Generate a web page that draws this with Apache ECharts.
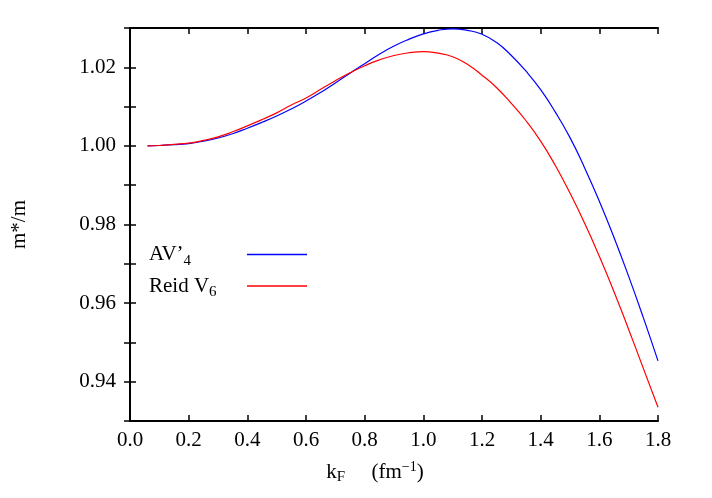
<!DOCTYPE html>
<html>
<head>
<meta charset="utf-8">
<script src="https://cdn.jsdelivr.net/npm/echarts@6/dist/echarts.min.js"></script>
<style>
  html, body { margin: 0; padding: 0; background: #fff; }
</style>
</head>
<body>
<div id="main" style="width: 712px; height: 498px"></div>
<script>
// 读图估计的数据
const kF = [0.06, 0.1, 0.15, 0.2, 0.25, 0.3, 0.35, 0.4, 0.45, 0.5, 0.55, 0.6, 0.65, 0.7, 0.75, 0.8, 0.85, 0.9, 0.95,
  1.0, 1.05, 1.1, 1.15, 1.2, 1.25, 1.3, 1.35, 1.4, 1.45, 1.5, 1.55, 1.6, 1.65, 1.7, 1.75, 1.8];
const av4 = [1.0000, 1.0001, 1.0003, 1.0006, 1.0012, 1.0020, 1.0031, 1.0045, 1.0060, 1.0076, 1.0094, 1.0114, 1.0136,
  1.0160, 1.0185, 1.0209, 1.0233, 1.0254, 1.0271, 1.0285, 1.0294, 1.0298, 1.0294, 1.0284, 1.0263, 1.0230, 1.0190,
  1.0143, 1.0086, 1.0021, 0.9944, 0.9859, 0.9767, 0.9668, 0.9563, 0.9453];
const reidV6 = [1.0000, 1.0001, 1.0004, 1.0007, 1.0014, 1.0023, 1.0036, 1.0051, 1.0067, 1.0084, 1.0104, 1.0122, 1.0144,
  1.0166, 1.0186, 1.0204, 1.0219, 1.0230, 1.0237, 1.0240, 1.0236, 1.0227, 1.0208, 1.0180, 1.0148, 1.0108, 1.0064,
  1.0012, 0.9950, 0.9880, 0.9803, 0.9719, 0.9629, 0.9533, 0.9434, 0.9335];

const font = 'Liberation Serif';

function pairs(ys) {
  const out = [];
  for (let i = 0; i < kF.length; i++) {
    out.push([kF[i], ys[i]]);
  }
  return out;
}

const myChart = echarts.init(document.getElementById('main'));

const tickStyle = {show: true, inside: true, length: 6, lineStyle: {color: '#000', width: 1.5}};
const frameLine = {show: true, lineStyle: {color: '#000', width: 2}};

const option = {
  animation: false,
  grid: {left: 130, right: 54, top: 28, bottom: 77, containLabel: false},
  legend: {
    orient: 'vertical',
    left: 149,
    top: 244,
    padding: 0,
    align: 'right',
    itemGap: 7,
    itemWidth: 60,
    itemHeight: 1.5,
    icon: 'rect',
    textStyle: {
      fontFamily: font, fontSize: 21, color: '#000', width: 93,
      rich: {
        n: {fontFamily: font, fontSize: 21, color: '#000', align: 'left'},
        sub: {fontFamily: font, fontSize: 15, color: '#000', align: 'left', padding: [13, 0, 0, 0]}
      }
    },
    formatter: function (name) {
      if (name === 'AV4') return '{n|AV’}{sub|4}';
      return '{n|Reid V}{sub|6}';
    },
    data: ['AV4', 'ReidV6']
  },
  xAxis: [{
    type: 'value',
    min: 0, max: 1.8, interval: 0.2,
    name: 'k{sub|F}     (fm{sup|−1})',
    nameLocation: 'middle',
    nameGap: 38,
    nameTextStyle: {
      fontFamily: font, fontSize: 21, color: '#000', padding: [0, 38, 0, 0],
      rich: {
        sub: {fontFamily: font, fontSize: 15, color: '#000', padding: [11, 0, 0, 0]},
        sup: {fontFamily: font, fontSize: 14, color: '#000', padding: [0, 0, 10, 0]}
      }
    },
    axisLine: frameLine,
    axisTick: tickStyle,
    splitLine: {show: false},
    axisLabel: {
      fontFamily: font, fontSize: 21, color: '#000', margin: 9,
      formatter: v => v.toFixed(1)
    }
  }, {
    type: 'value', position: 'top',
    min: 0, max: 1.8, interval: 0.2,
    axisLine: frameLine,
    axisTick: tickStyle,
    axisLabel: {show: false},
    splitLine: {show: false}
  }],
  yAxis: [{
    type: 'value',
    min: 0.93, max: 1.03, interval: 0.01,
    name: 'm*/m',
    nameLocation: 'middle',
    nameGap: 100,
    nameTextStyle: {fontFamily: font, fontSize: 21, color: '#000'},
    axisLine: frameLine,
    axisTick: tickStyle,
    splitLine: {show: false},
    axisLabel: {
      fontFamily: font, fontSize: 21, color: '#000', margin: 14,
      formatter: function (v) {
        return Math.round(v * 100) % 2 === 0 ? v.toFixed(2) : '';
      }
    }
  }, {
    type: 'value', position: 'right',
    min: 0.93, max: 1.03, interval: 0.01,
    axisLine: frameLine,
    axisTick: tickStyle,
    axisLabel: {show: false},
    splitLine: {show: false}
  }],
  series: [
    {
      name: 'AV4',
      type: 'line',
      data: pairs(av4),
      smooth: true,
      showSymbol: false,
      lineStyle: {color: '#0000ff', width: 1.2},
      itemStyle: {color: '#0000ff'}
    },
    {
      name: 'ReidV6',
      type: 'line',
      data: pairs(reidV6),
      smooth: true,
      showSymbol: false,
      lineStyle: {color: '#ff0000', width: 1.2},
      itemStyle: {color: '#ff0000'}
    }
  ]
};

myChart.setOption(option);
</script>
</body>
</html>
